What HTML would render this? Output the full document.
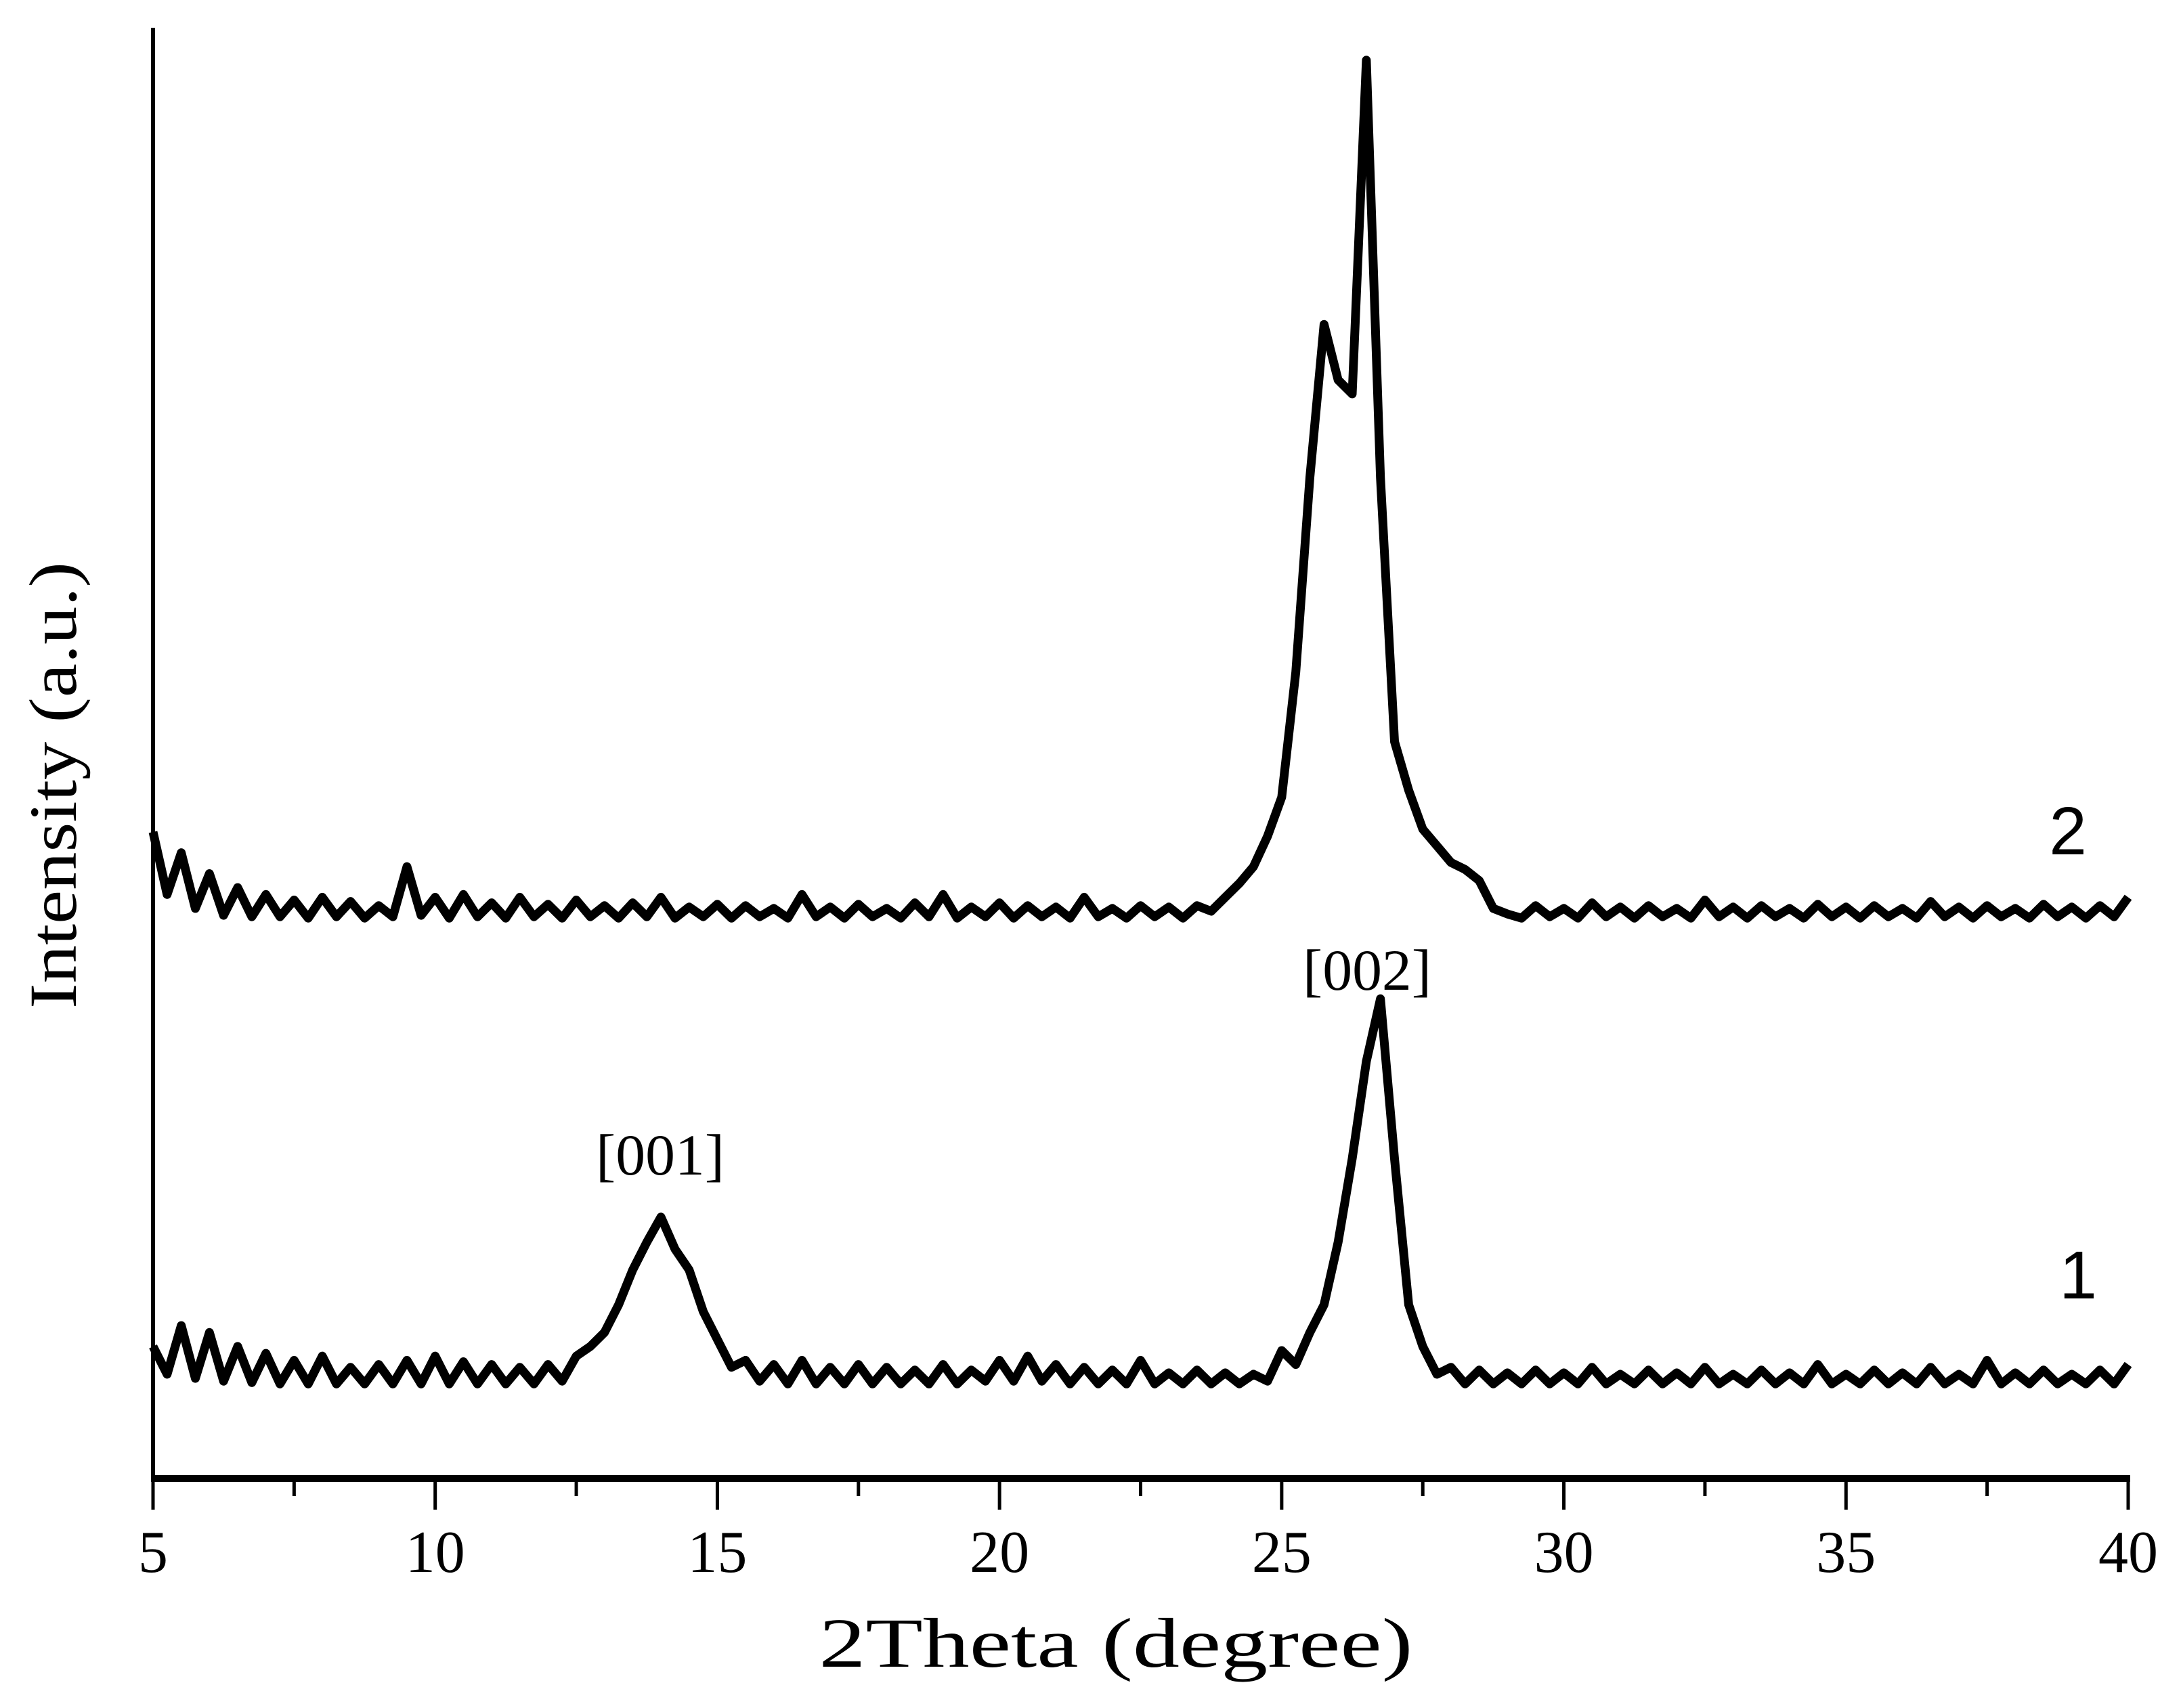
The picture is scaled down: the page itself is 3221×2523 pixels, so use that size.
<!DOCTYPE html>
<html><head><meta charset="utf-8"><style>html,body{margin:0;padding:0;background:#fff}svg{display:block}</style></head>
<body>
<svg id="chart" width="3221" height="2523" viewBox="0 0 3221 2523" xmlns="http://www.w3.org/2000/svg">
<g id="plot"></g>
<text x="0" y="0" transform="translate(112,1160) rotate(-90)" text-anchor="middle" font-family="Liberation Serif, serif" font-size="100" textLength="660" lengthAdjust="spacingAndGlyphs">Intensity (a.u.)</text>
<text x="1648" y="2462" text-anchor="middle" font-family="Liberation Serif, serif" font-size="104" textLength="877" lengthAdjust="spacingAndGlyphs">2Theta (degree)</text>
<text x="975" y="1735" text-anchor="middle" font-family="Liberation Serif, serif" font-size="86" textLength="190" lengthAdjust="spacingAndGlyphs">[001]</text>
<text x="2019" y="1462" text-anchor="middle" font-family="Liberation Serif, serif" font-size="86" textLength="190" lengthAdjust="spacingAndGlyphs">[002]</text>
<text x="3054" y="1262" text-anchor="middle" font-family="Liberation Sans, sans-serif" font-size="100">2</text>
<text x="3069" y="1918" text-anchor="middle" font-family="Liberation Sans, sans-serif" font-size="100">1</text>
</svg>
<script>
const xStart = 5, xStep = 0.25;
const series2 = [465,420,450,410,435,405,425,404,420,404,416,403,418,404,415,403,412,404,440,405,
418,403,420,404,414,403,418,404,413,403,416,404,412,403,414,404,418,403,411,404,
413,403,412,404,410,403,420,404,411,403,413,404,410,403,414,404,420,403,411,404,
414,403,412,404,411,403,418,404,410,403,412,404,411,403,412,408,418,428,440,462,
490,580,720,830,790,780,1020,720,530,495,467,455,443,438,430,410,406,
403,412,404,410,403,414,404,411,403,412,404,410,403,416,404,411,403,412,404,410,
403,413,404,411,403,412,404,410,403,415,404,411,403,412,404,410,403,413,404,411,403,412,404,418];
const series1 = [95,75,110,72,105,70,95,69,90,68,85,68,88,68,80,68,82,68,85,68,
88,68,84,68,82,68,80,68,82,70,88,95,105,125,150,170,188,165,150,120,
100,80,85,70,82,68,85,68,80,68,82,68,80,68,78,68,82,68,78,70,
85,70,88,70,82,68,80,68,78,68,85,68,76,68,78,68,76,68,75,70,
92,82,105,125,170,230,300,345,230,125,95,75,80,68,78,68,76,
68,78,68,76,68,80,68,75,68,78,68,76,68,80,68,75,68,78,68,76,
68,82,68,75,68,78,68,76,68,80,68,75,68,85,68,76,68,78,68,75,68,78,68,82];
const xTicks = [5,10,15,20,25,30,35,40];
const xMinor = [7.5,12.5,17.5,22.5,27.5,32.5,37.5];

const NS='http://www.w3.org/2000/svg';
const g=document.getElementById('plot');
const X0=226,X1=3143,Y0=2184;
const xs=d=>X0+(d-5)*(X1-X0)/35;
const ys=v=>Y0-v*2.054;
function mk(t,a){const e=document.createElementNS(NS,t);for(const k in a)e.setAttribute(k,a[k]);g.appendChild(e);return e;}

function drawSeries(arr,name){
  const pts=arr.map((v,i)=>xs(xStart+i*xStep).toFixed(1)+','+ys(v).toFixed(1)).join(' ');
  const p=mk('polyline',{points:pts,fill:'none',stroke:'#000','stroke-width':13,'stroke-linejoin':'round'});
  
  
}
drawSeries(series2,'series-2-line');
drawSeries(series1,'series-1-line');

const ya=mk('line',{x1:X0,y1:41,x2:X0,y2:Y0+2,stroke:'#000','stroke-width':6});


const xa=mk('line',{x1:X0-3,y1:Y0,x2:X1+3,y2:Y0,stroke:'#000','stroke-width':10});


xTicks.forEach(t=>{
  const l=mk('line',{x1:xs(t),y1:Y0,x2:xs(t),y2:Y0+46,stroke:'#000','stroke-width':5});
  
  
  const tx=mk('text',{x:xs(t),y:Y0+138,'text-anchor':'middle','font-family':'Liberation Serif, serif','font-size':88});
  tx.textContent=t;
  
  
});
xMinor.forEach(t=>{
  const l=mk('line',{x1:xs(t),y1:Y0,x2:xs(t),y2:Y0+26,stroke:'#000','stroke-width':5});
  
  
});
</script>
</body></html>
